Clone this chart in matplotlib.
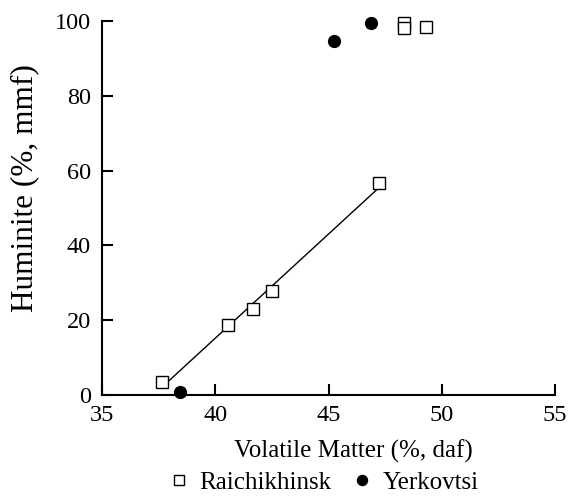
import matplotlib.pyplot as plt
import numpy as np

plt.rcParams['font.family'] = ['Liberation Serif', 'DejaVu Serif']

# Raichikhinsk samples (volatile matter vs huminite)
raich_vm = [37.65, 40.58, 41.68, 42.5, 47.24, 48.33, 48.33, 49.3]
raich_hum = [3.5, 18.7, 23.0, 27.8, 56.8, 99.6, 98.2, 98.5]

# Yerkovtsi samples
yerk_vm = [38.45, 45.25, 46.85]
yerk_hum = [0.8, 94.6, 99.6]

# the trend line is fitted on the first five Raichikhinsk points
fit_n = 5

fig = plt.figure(figsize=(5.73, 4.96), dpi=100)
ax = fig.add_axes([0.178, 0.2036, 0.791, 0.754])

fit_x = np.array(raich_vm[:fit_n])
slope, intercept = np.polyfit(fit_x, raich_hum[:fit_n], 1)
line_x = np.array([fit_x.min(), fit_x.max()])
ax.plot(line_x, slope * line_x + intercept, color="black", lw=1.0, zorder=1)

ax.plot(raich_vm, raich_hum, ls="none", marker="s", ms=8, mfc="white",
        mec="black", mew=1.0, label="Raichikhinsk", zorder=3, clip_on=False)
ax.plot(yerk_vm, yerk_hum, ls="none", marker="o", ms=8.5, mfc="black",
        mec="black", label="Yerkovtsi", zorder=3, clip_on=False)

ax.set_xlim(35, 55)
ax.set_ylim(0, 100)
ax.set_xticks([35, 40, 45, 50, 55])
ax.set_yticks([0, 20, 40, 60, 80, 100])

ax.spines["top"].set_visible(False)
ax.spines["right"].set_visible(False)
ax.spines["left"].set_linewidth(1.5)
ax.spines["bottom"].set_linewidth(1.5)
ax.tick_params(direction="in", length=8, width=1.5, labelsize=17.5)
ax.tick_params(axis="x", pad=7)
ax.tick_params(axis="y", pad=8)

ax.set_xlabel("Volatile Matter (%, daf)", fontsize=18)
ax.xaxis.set_label_coords(0.554, -0.118)
ax.set_ylabel("Huminite (%, mmf)", fontsize=22.5)
ax.yaxis.set_label_coords(-0.17, 0.553)
ax.yaxis.label.set_va("center")

fig.legend(loc="center", bbox_to_anchor=(0.565, 0.027), ncol=2,
           frameon=False, fontsize=18, borderpad=0, handlelength=0.8,
           handletextpad=0.4, columnspacing=0.85, markerscale=0.85)

fig.savefig("out.png", dpi=100)
